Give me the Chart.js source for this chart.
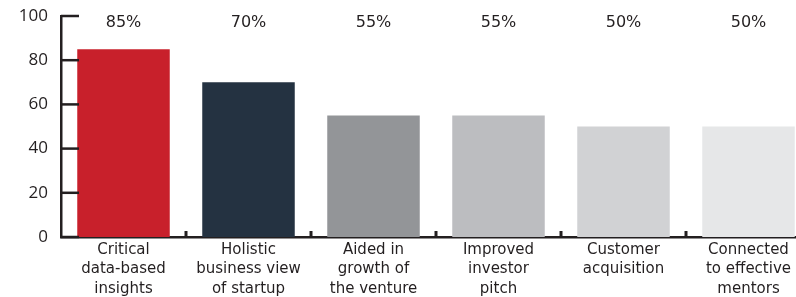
<!DOCTYPE html>
<html>
<head>
<meta charset="utf-8">
<script src="https://cdn.jsdelivr.net/npm/chart.js@4"></script>
<style>
  html, body { margin: 0; padding: 0; background: #fff; overflow: hidden; }
  .chart-c { position: relative; width: 811px; height: 297px; }
</style>
</head>
<body>
<div class="chart-c">
  <canvas id="my-chart"></canvas>
</div>
<script>
// chart data
const categories = [
  ['Critical', 'data-based', 'insights'],
  ['Holistic', 'business view', 'of startup'],
  ['Aided in', 'growth of', 'the venture'],
  ['Improved', 'investor', 'pitch'],
  ['Customer', 'acquisition'],
  ['Connected', 'to effective', 'mentors']
]
const shares = [85, 70, 55, 55, 50, 50]
const barColors = ['#c8202b', '#243241', '#939598', '#bcbdc0', '#d1d2d4', '#e6e7e8']
const yTicks = [0, 20, 40, 60, 80, 100]

const axisColor = '#231f20'

// value labels along the top + inward tick marks
const extras = {
  id: 'extras',
  afterDatasetsDraw(chart) {
    const ctx = chart.ctx
    const area = chart.chartArea
    const x = chart.scales.x
    const y = chart.scales.y
    ctx.save()
    ctx.strokeStyle = axisColor

    // y ticks pointing right
    ctx.lineWidth = 2.5
    yTicks.forEach(v => {
      const py = y.getPixelForValue(v)
      ctx.beginPath()
      ctx.moveTo(area.left, py)
      ctx.lineTo(area.left + 18, py)
      ctx.stroke()
    })

    // category boundary ticks pointing up
    ctx.lineWidth = 3
    for (let i = 0; i < shares.length - 1; i++) {
      const px = (x.getPixelForValue(i) + x.getPixelForValue(i + 1)) / 2
      ctx.beginPath()
      ctx.moveTo(px, area.bottom)
      ctx.lineTo(px, area.bottom - 6)
      ctx.stroke()
    }

    // percent labels
    ctx.fillStyle = axisColor
    ctx.font = '16px "DejaVu Sans"'
    ctx.textAlign = 'center'
    ctx.textBaseline = 'middle'
    const meta = chart.getDatasetMeta(0)
    meta.data.forEach((bar, i) => {
      ctx.fillText(shares[i] + '%', bar.x, area.top + 7)
    })
    ctx.restore()
  }
}

const fChartCanva = document.getElementById('my-chart')

const fChart = new Chart(fChartCanva, {
  type: 'bar',
  data: {
    labels: categories,
    datasets: [{
      data: shares,
      backgroundColor: barColors,
      borderWidth: 0,
      categoryPercentage: 1,
      barPercentage: 0.74
    }]
  },
  options: {
    responsive: true,
    maintainAspectRatio: false,
    animation: false,
    layout: {
      padding: { top: 16, right: 0, left: 0, bottom: 0 }
    },
    plugins: {
      legend: { display: false },
      tooltip: { enabled: false }
    },
    scales: {
      x: {
        grid: { display: false, drawTicks: false },
        border: { display: true, color: axisColor, width: 2.5 },
        ticks: {
          color: axisColor,
          font: { family: 'DejaVu Sans', size: 15, lineHeight: 1.3 },
          padding: 3,
          maxRotation: 0,
          autoSkip: false
        },
        afterFit(scale) {
          scale.height = 60
          scale.paddingLeft = 0
          scale.paddingRight = 0
        }
      },
      y: {
        min: 0,
        max: 100,
        grid: { display: false, drawTicks: false },
        border: { display: true, color: axisColor, width: 2.5 },
        afterBuildTicks(scale) {
          scale.ticks = yTicks.map(v => ({ value: v }))
        },
        ticks: {
          color: axisColor,
          font: { family: 'Open Sans', size: 17 },
          padding: 13
        },
        afterFit(scale) {
          scale.width = 61
          scale.paddingTop = 0
          scale.paddingBottom = 0
        }
      }
    }
  },
  plugins: [extras]
})
</script>
</body>
</html>
